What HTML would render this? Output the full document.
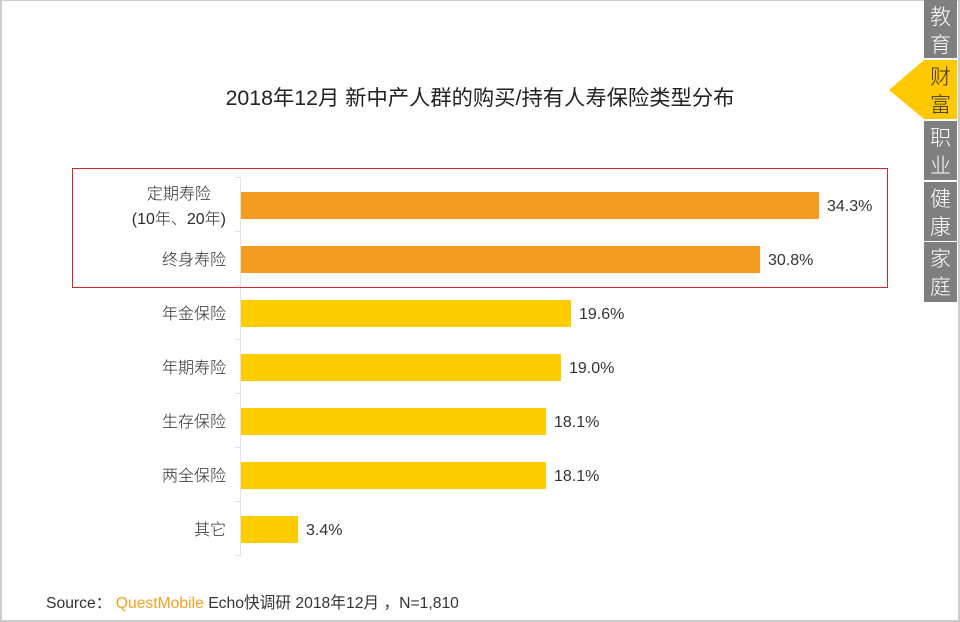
<!DOCTYPE html>
<html><head><meta charset="utf-8">
<style>
*{margin:0;padding:0;box-sizing:border-box}
body{width:960px;height:622px;background:#fff;position:relative;overflow:hidden;font-family:"Liberation Sans","Noto Sans CJK SC",sans-serif;color:#333}
.frame{position:absolute;left:0;top:0;width:960px;height:622px;border-top:1px solid #ccc;border-left:2px solid #ccc;border-right:2px solid #ccc;border-bottom:2px solid #ccc}
.title{position:absolute;left:0;width:960px;top:85px;text-align:center;font-size:21.3px;line-height:26px;color:#222}
.redbox{position:absolute;left:72px;top:168px;width:816px;height:120px;border:1px solid #d7262c}
.axis{position:absolute;left:240px;top:177px;width:1px;height:380px;background:#e3e3e3}
.tick{position:absolute;left:235px;width:5px;height:1px;background:#e3e3e3}
.bar{position:absolute;left:241px;height:27px}
.o{background:#f59b1f}
.y{background:#ffcc00}
.val{position:absolute;font-size:16px;line-height:20px;color:#333}
.lab{position:absolute;right:734px;font-size:16px;line-height:25px;text-align:center;color:#2a2a2a;font-weight:300}
.tab{position:absolute;left:924px;width:33px;height:59px;background:#7f7f7f;color:#fff;font-size:21px;line-height:28px;text-align:center;padding-top:2px;font-family:"Noto Sans CJK SC",sans-serif;font-weight:300}
.tab.act{background:#ffc800;color:#333}
.src{position:absolute;left:46px;top:594px;font-size:15.7px;line-height:20px;color:#333}
</style></head><body>
<div class="frame"></div>
<div class="title">2018年12月 新中产人群的购买/持有人寿保险类型分布</div>

<div class="axis"></div>
<div class="tick" style="top:177px"></div>
<div class="tick" style="top:231px"></div>
<div class="tick" style="top:285px"></div>
<div class="tick" style="top:339px"></div>
<div class="tick" style="top:393px"></div>
<div class="tick" style="top:447px"></div>
<div class="tick" style="top:501px"></div>
<div class="tick" style="top:555px"></div>

<div class="bar o" style="top:192px;width:578px"></div>
<div class="bar o" style="top:246px;width:519px"></div>
<div class="bar y" style="top:300px;width:330px"></div>
<div class="bar y" style="top:354px;width:320px"></div>
<div class="bar y" style="top:408px;width:305px"></div>
<div class="bar y" style="top:462px;width:305px"></div>
<div class="bar y" style="top:516px;width:57px"></div>

<div class="val" style="left:827px;top:197px">34.3%</div>
<div class="val" style="left:768px;top:251px">30.8%</div>
<div class="val" style="left:579px;top:305px">19.6%</div>
<div class="val" style="left:569px;top:359px">19.0%</div>
<div class="val" style="left:554px;top:413px">18.1%</div>
<div class="val" style="left:554px;top:467px">18.1%</div>
<div class="val" style="left:306px;top:521px">3.4%</div>

<div class="lab" style="top:182px">定期寿险<br>(10年、20年)</div>
<div class="lab" style="top:248px">终身寿险</div>
<div class="lab" style="top:302px">年金保险</div>
<div class="lab" style="top:356px">年期寿险</div>
<div class="lab" style="top:410px">生存保险</div>
<div class="lab" style="top:464px">两全保险</div>
<div class="lab" style="top:518px">其它</div>

<div class="redbox"></div>

<div class="tab" style="top:0px;height:58px">教<br>育</div>
<div class="tab act" style="top:60px">财<br>富</div>
<div class="tab" style="top:121px">职<br>业</div>
<div class="tab" style="top:182px">健<br>康</div>
<div class="tab" style="top:242px;height:60px">家<br>庭</div>
<svg style="position:absolute;left:888px;top:60px" width="37" height="60"><polygon points="1,30 36,0 36,59" fill="#ffc800"/></svg>

<div class="src">Source： <span style="color:#f5a01e">QuestMobile</span> Echo快调研 2018年12月 ，N=1,810</div>
</body></html>
